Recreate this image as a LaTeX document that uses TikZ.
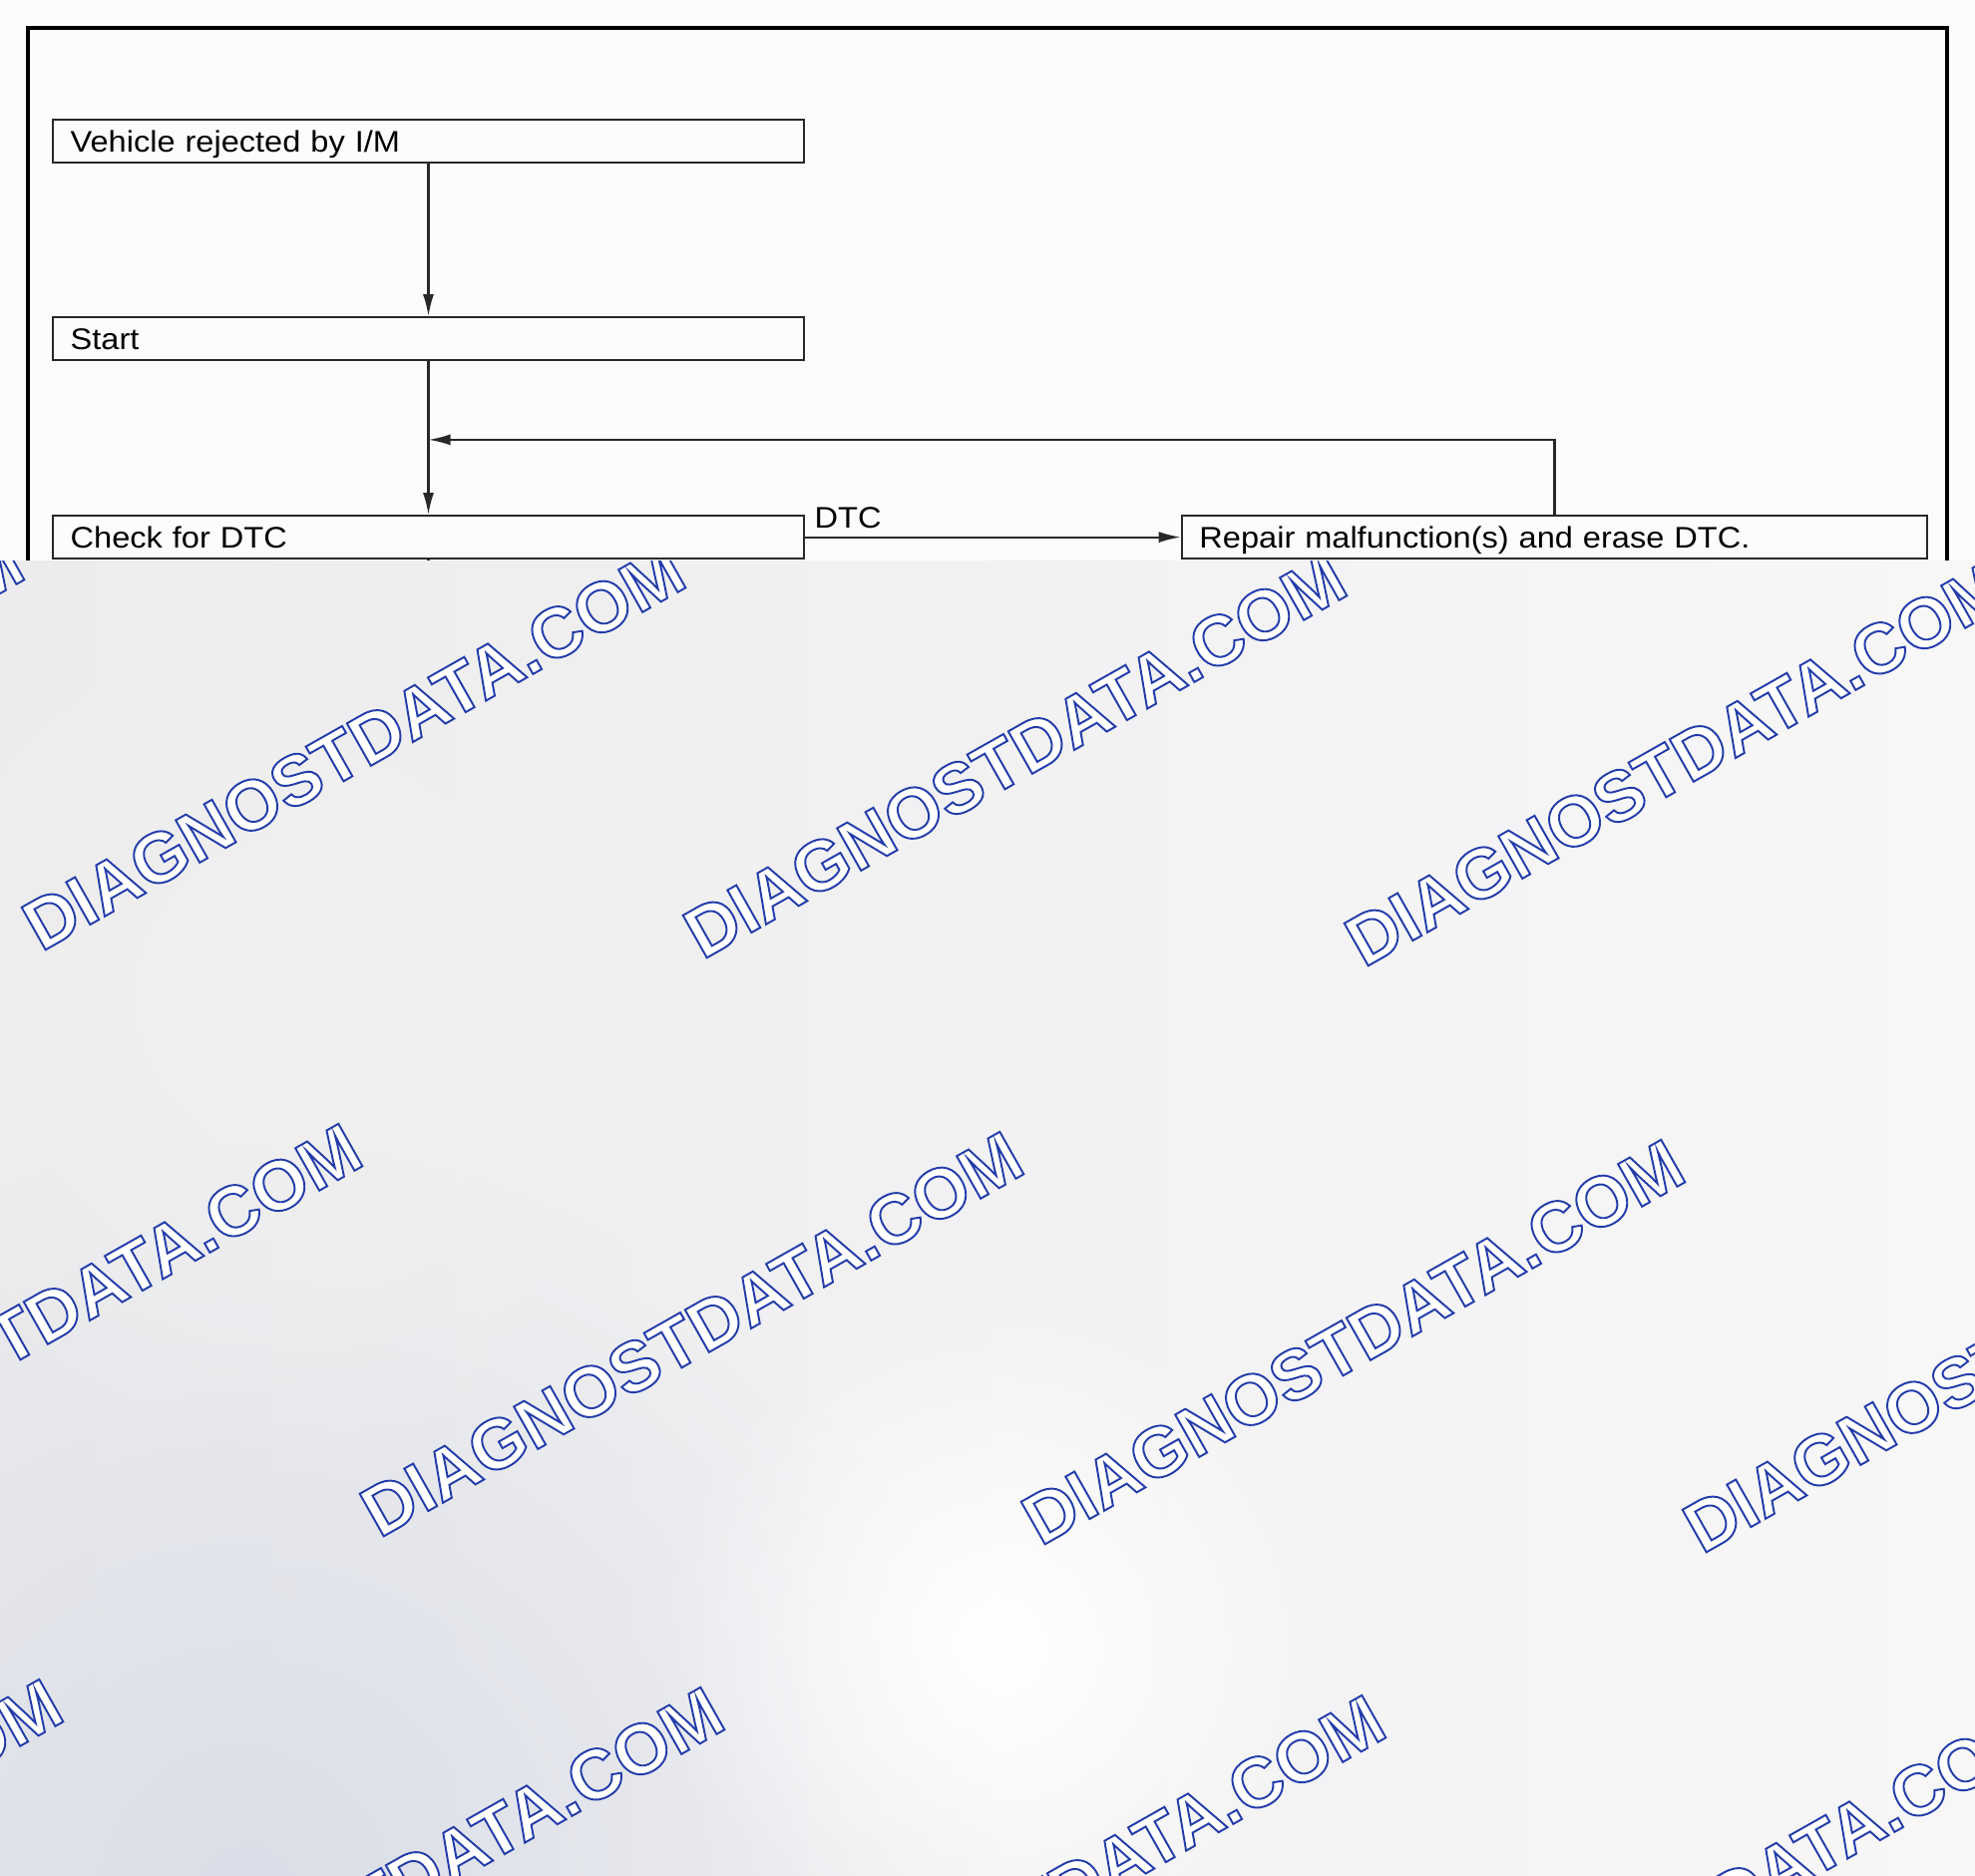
\documentclass[tikz,border=0pt]{standalone}
\usepackage{fontspec}
\setmainfont{Liberation Sans}
\newfontfamily\boxfont{Liberation Sans}[FakeStretch=1.09]
\usetikzlibrary{arrows.meta,fadings}
\definecolor{paper}{RGB}{252,252,252}
\definecolor{boxline}{RGB}{40,40,40}
\definecolor{bgleft}{RGB}{236,236,238}
\definecolor{bgright}{RGB}{247,247,248}
\definecolor{bgblue}{RGB}{218,222,232}
\tikzfading[name=softspot,inner color=transparent!0,outer color=transparent!100]
% hollow letters: white fill, thin blue outline
\newcommand{\hollow}[1]{\special{pdf:literal direct 2 Tr 0.55 w 0.137 0.235 0.667 RG 1 g}#1\special{pdf:literal direct 0 Tr}}
\begin{document}
\begin{tikzpicture}[x=0.1mm,y=-0.1mm,
        box/.style={draw=boxline,line width=0.6pt,fill=paper,inner xsep=1.77mm,inner ysep=0pt,
            minimum height=4.3mm,text height=6.1pt,text depth=0pt,align=left,
            font=\fontsize{8.5pt}{10pt}\boxfont},
        flow/.style={draw=boxline,line width=0.6pt,-{Latex[length=2.2mm,width=1.1mm]}},
        wm/.style={rotate=29.5,anchor=base west,inner sep=0pt,
            font=\fontsize{20.2pt}{24pt}\selectfont\bfseries}]
    \useasboundingbox (0,0) rectangle (1980,1881);
    \fill[paper] (0,0) rectangle (1980,1881);
    \draw[line width=1.1pt] (27.8,27.8) rectangle (1952,1800);
    % flow chart
    \node[box,text width=71.76mm] (reject) at (429.5,141.6) {Vehicle rejected by I/M};
    \node[box,text width=71.76mm] (start) at (429.5,339.6) {Start};
    \node[box,text width=71.76mm] (check) at (429.5,538.6) {Check for DTC};
    \node[box,text width=71.21mm] (repair) at (1558.5,538.6) {Repair malfunction(s) and erase DTC.};
    \coordinate (join) at (429.5,440.9);
    \coordinate (cut) at (429.5,580);
    \draw[flow] (reject) -- (start);
    \draw[flow] (start) -- (check);
    \draw[flow] (check) -- (repair)
        node[pos=0,anchor=base west,inner sep=0pt,xshift=0.85mm,yshift=0.86mm,
            font=\fontsize{8.5pt}{10pt}\boxfont] (dtc) {DTC};
    \draw[flow] (repair.north) |- (join);
    \draw[draw=boxline,line width=0.6pt] (check.south) -- (cut);
    % lower part
    \begin{scope}
        \clip (0,563) rectangle (1980,1881);
        \shade[left color=bgleft,right color=bgright] (0,563) rectangle (1980,1881);
        \fill[bgblue,path fading=softspot] (250,1900) circle (750);
        \fill[black!6,path fading=softspot] (300,1000) circle (500);
        \fill[white,path fading=softspot] (1000,1650) circle (350);
        \foreach \wx/\wy [count=\i] in {-622/947,41/955,704/963,1367/971,
                -283/1535,380/1543,1043/1551,1706/1559,
                -583/2092,80/2100,743/2108,1406/2116}
            \node[wm] (mark\i) at (\wx,\wy) {\hollow{DIAGNOSTDATA.COM}};
    \end{scope}
\end{tikzpicture}
\end{document}
